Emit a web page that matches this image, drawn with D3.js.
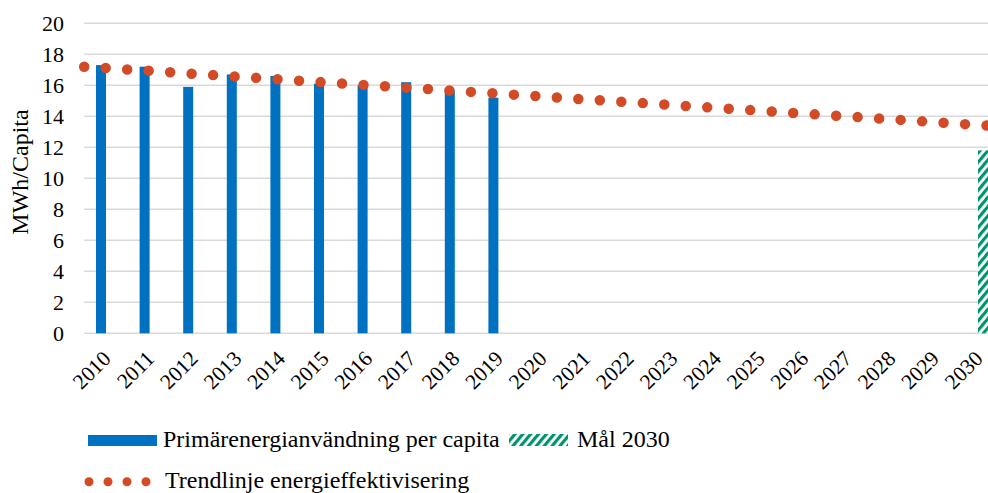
<!DOCTYPE html>
<html>
<head>
<meta charset="utf-8">
<script src="https://cdn.jsdelivr.net/npm/d3@7"></script>
<style>
  body { margin: 0; background: #fff; }
  svg { display: block; font-family: "Liberation Serif", "Times New Roman", serif; }
</style>
</head>
<body>
<div id="chart"></div>
<script>
const years = ["2010","2011","2012","2013","2014","2015","2016","2017","2018","2019","2020",
  "2021","2022","2023","2024","2025","2026","2027","2028","2029","2030"];
const energyYears = ["2010","2011","2012","2013","2014","2015","2016","2017","2018","2019"];
const energyValues = [17.3, 17.2, 15.9, 16.7, 16.6, 16.1, 16.0, 16.2, 15.7, 15.2];
const goalYears = ["2030"];
const goalValues = [11.8];
const trendValues = [17.11, 16.93, 16.74, 16.56, 16.38, 16.19, 16.01, 15.83, 15.64, 15.46, 15.28,
  15.09, 14.91, 14.72, 14.54, 14.36, 14.17, 13.99, 13.81, 13.62, 13.44];
const yTicks = [0, 2, 4, 6, 8, 10, 12, 14, 16, 18, 20];

const width = 988, height = 493;
const blue = "#0070C0", green = "#00936E", orange = "#D24A26";

const svg = d3.select("#chart").append("svg")
  .attr("width", width)
  .attr("height", height);

const defs = svg.append("defs");
const pat = defs.append("pattern")
  .attr("id", "hatch")
  .attr("patternUnits", "userSpaceOnUse")
  .attr("width", 6).attr("height", 6)
  .attr("patternTransform", "rotate(40)");
pat.append("rect").attr("width", 6).attr("height", 6).attr("fill", "#fff");
pat.append("rect").attr("width", 3.2).attr("height", 6).attr("fill", green);

const x = d3.scaleBand().domain(years).range([84.2, 84.2 + 21 * 43.6]);
const y = d3.scaleLinear().domain([0, 20]).range([333.3, 23.3]);
const barW = 10;

// gridlines
svg.append("g").selectAll("line").data(yTicks).enter().append("line")
  .attr("x1", x.range()[0]).attr("x2", x.range()[1])
  .attr("y1", d => y(d)).attr("y2", d => y(d))
  .attr("stroke", "#d9d9d9").attr("stroke-width", 1.5);

// y tick labels
svg.append("g").selectAll("text").data(yTicks).enter().append("text")
  .attr("x", 64).attr("y", d => y(d)).attr("dy", "0.35em")
  .attr("text-anchor", "end").attr("font-size", 22).attr("fill", "#000")
  .text(d => d);

svg.append("text")
  .attr("transform", "translate(28,172) rotate(-90)")
  .attr("text-anchor", "middle").attr("font-size", 24)
  .text("MWh/Capita");

// bars
svg.append("g").selectAll("rect").data(energyYears).enter().append("rect")
  .attr("x", d => x(d) + x.bandwidth() / 2 - barW)
  .attr("y", (d, i) => y(energyValues[i]))
  .attr("width", barW)
  .attr("height", (d, i) => y(0) - y(energyValues[i]))
  .attr("fill", blue);

svg.append("g").selectAll("rect").data(goalYears).enter().append("rect")
  .attr("x", d => x(d) + x.bandwidth() / 2)
  .attr("y", (d, i) => y(goalValues[i]))
  .attr("width", barW)
  .attr("height", (d, i) => y(0) - y(goalValues[i]))
  .attr("fill", "url(#hatch)");

// trend line (dotted), extended half a band each side
const pts = years.map((d, i) => [x(d) + x.bandwidth() / 2, y(trendValues[i])]);
const n = pts.length;
const startP = [pts[0][0] - (pts[1][0] - pts[0][0]) / 2, pts[0][1] - (pts[1][1] - pts[0][1]) / 2];
const endP = [pts[n - 1][0] + (pts[n - 1][0] - pts[n - 2][0]) / 2, pts[n - 1][1] + (pts[n - 1][1] - pts[n - 2][1]) / 2];
svg.append("path")
  .attr("d", d3.line()([startP].concat(pts, [endP])))
  .attr("fill", "none")
  .attr("stroke", orange)
  .attr("stroke-width", 10.5)
  .attr("stroke-linecap", "round")
  .attr("stroke-dasharray", "0,21.53");

// x labels
svg.append("g").selectAll("text").data(years).enter().append("text")
  .attr("transform", d => `translate(${x(d) + x.bandwidth() / 2 + 6},${360}) rotate(-45)`)
  .attr("text-anchor", "end").attr("font-size", 21.5)
  .text(d => d);

// legend
const lg = svg.append("g").attr("font-size", 24);
lg.append("rect").attr("x", 88).attr("y", 435).attr("width", 69).attr("height", 11).attr("fill", blue);
lg.append("text").attr("x", 163).attr("y", 447).text("Primärenergianvändning per capita");
lg.append("rect").attr("x", 509).attr("y", 434).attr("width", 59).attr("height", 12).attr("fill", "url(#hatch)");
lg.append("text").attr("x", 577).attr("y", 447).text("Mål 2030");
lg.selectAll("circle").data([89, 108, 127, 146]).enter().append("circle")
  .attr("cx", d => d).attr("cy", 481.7).attr("r", 4.5).attr("fill", orange);
lg.append("text").attr("x", 165).attr("y", 488).text("Trendlinje energieffektivisering");
</script>
</body>
</html>
